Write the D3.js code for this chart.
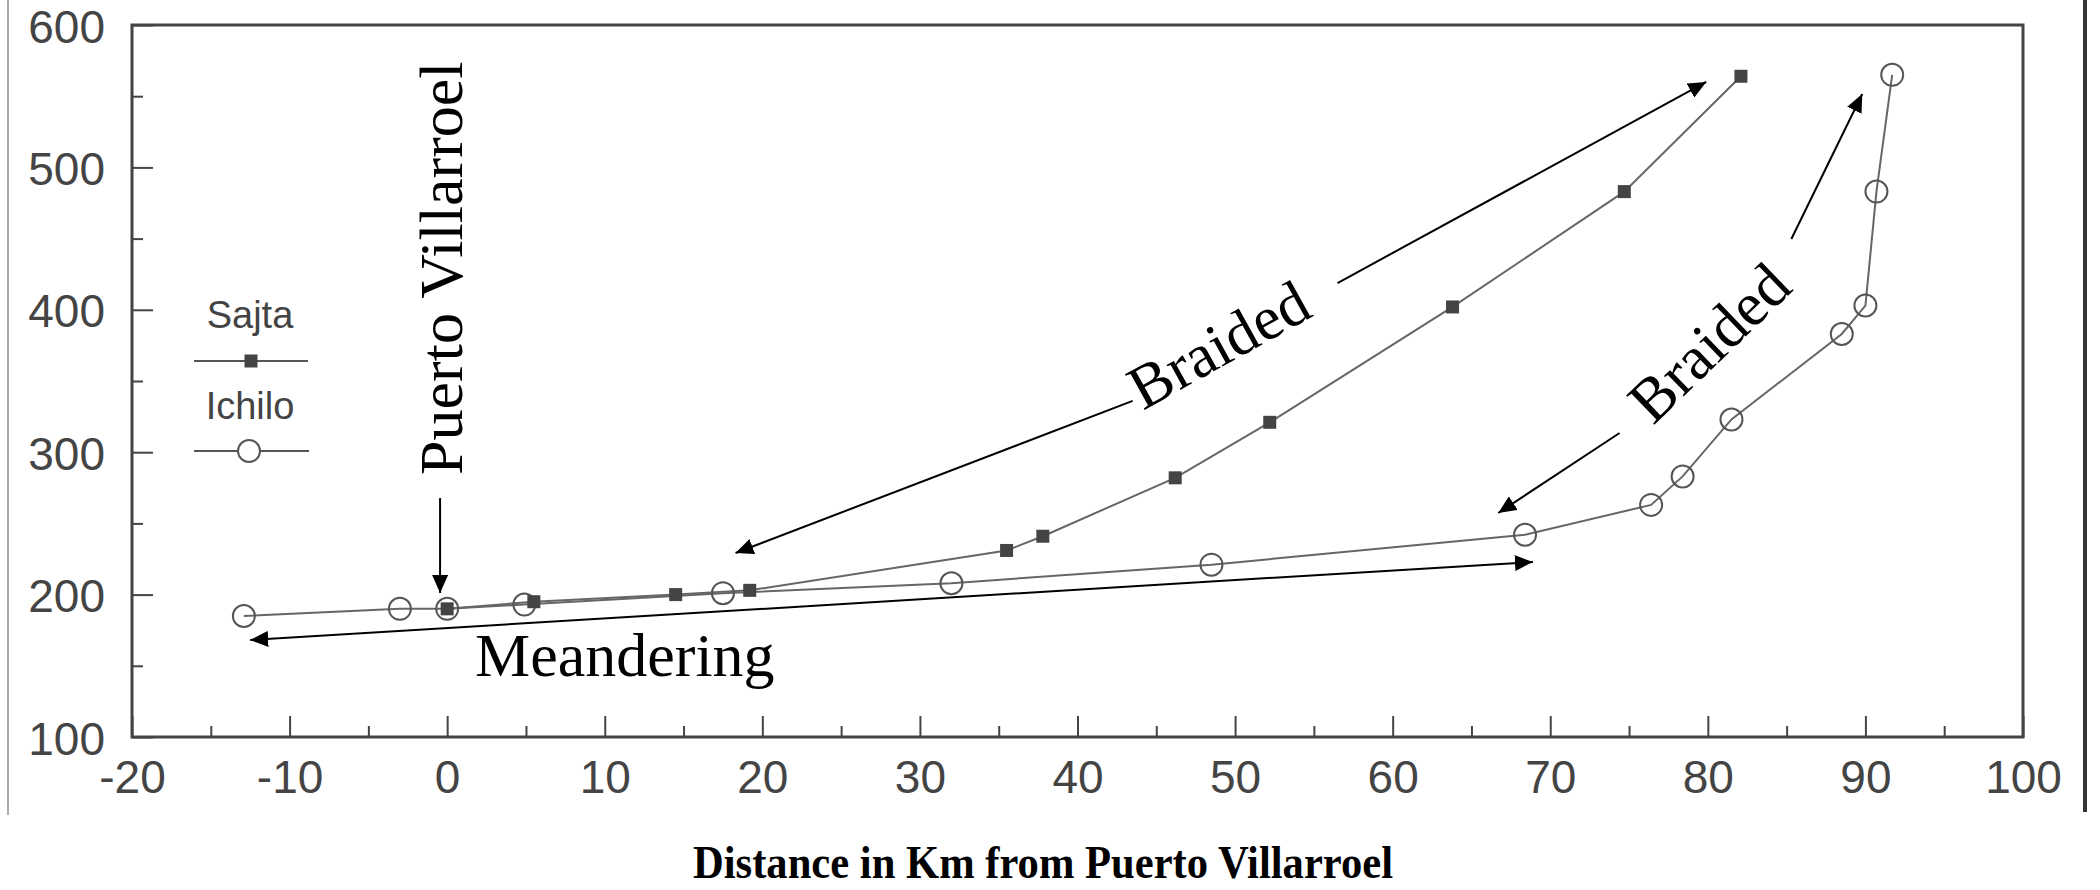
<!DOCTYPE html>
<html>
<head>
<meta charset="utf-8">
<script src="https://cdn.jsdelivr.net/npm/d3@7"></script>
<style>
  body { margin: 0; background: #fff; }
  svg { display: block; }
</style>
</head>
<body>
<svg id="chart" width="2100" height="890"></svg>
<script>
// Sajta river (filled squares)
var sajtaKm = [0, 5.5, 14.5, 19.2, 35.5, 37.8, 46.2, 52.2, 63.8, 74.7, 82.1];
var sajtaElev = [190, 195, 200, 203, 231, 241, 282, 321, 402, 483, 564];

// Ichilo river (open circles)
var ichiloKm = [-12.9, -3, 0, 4.9, 17.5, 32, 48.5, 68.4, 76.4, 78.4, 81.5, 88.5, 90, 90.7, 91.7];
var ichiloElev = [185, 190, 190, 193, 201, 208, 221, 242, 263, 283, 323, 383, 403, 483, 565];

var xTicks = [-20, -10, 0, 10, 20, 30, 40, 50, 60, 70, 80, 90, 100];
var xMinor = [-15, -5, 5, 15, 25, 35, 45, 55, 65, 75, 85, 95];
var yTicks = [100, 200, 300, 400, 500, 600];
var yMinor = [150, 250, 350, 450, 550];

var svg = d3.select("#chart");

var x = d3.scaleLinear().domain([-20, 100]).range([132, 2023]);
var y = d3.scaleLinear().domain([100, 600]).range([737, 25]);

var sans = "'Liberation Sans', Arial, Helvetica, sans-serif";
var serif = "'Liberation Serif', 'Times New Roman', Times, serif";

// plain hyphen for negatives, like the original
function fmt(d) { return String(d); }

// scan edges
svg.append("line").attr("x1", 8).attr("x2", 8).attr("y1", 0).attr("y2", 815)
	.attr("stroke", "#aaa").attr("stroke-width", 2);
svg.append("line").attr("x1", 2085).attr("x2", 2085).attr("y1", 0).attr("y2", 812)
	.attr("stroke", "#333").attr("stroke-width", 4);

// arrow head
svg.append("defs").append("marker")
	.attr("id", "head")
	.attr("viewBox", "0 0 18 16")
	.attr("refX", 18).attr("refY", 8)
	.attr("markerWidth", 18).attr("markerHeight", 16)
	.attr("markerUnits", "userSpaceOnUse")
	.attr("orient", "auto-start-reverse")
	.append("path").attr("d", "M0,0L18,8L0,16Z").attr("fill", "#000");

// axes, ticks pointing inward
svg.append("g").attr("transform", "translate(0," + y(100) + ")")
	.call(d3.axisBottom(x).tickValues(xTicks).tickFormat(fmt).tickSizeInner(-21).tickSizeOuter(0).tickPadding(23));
svg.append("g").attr("transform", "translate(0," + y(100) + ")")
	.call(d3.axisBottom(x).tickValues(xMinor).tickSizeInner(-11).tickSizeOuter(0).tickFormat(""));
var yAxis = svg.append("g").attr("transform", "translate(" + x(-20) + ",0)")
	.call(d3.axisLeft(y).tickValues(yTicks).tickFormat(fmt).tickSizeInner(-21).tickSizeOuter(0).tickPadding(27));
svg.append("g").attr("transform", "translate(" + x(-20) + ",0)")
	.call(d3.axisLeft(y).tickValues(yMinor).tickSizeInner(-11).tickSizeOuter(0).tickFormat(""));

svg.selectAll(".domain").remove();
svg.selectAll(".tick line").attr("stroke", "#444").attr("stroke-width", 2);
svg.selectAll(".tick text")
	.attr("fill", "#444")
	.style("font-family", sans)
	.style("font-size", "46px");
yAxis.selectAll(".tick text").attr("dy", "0.37em");

// frame
svg.append("rect")
	.attr("x", x(-20)).attr("y", y(600))
	.attr("width", x(100) - x(-20)).attr("height", y(100) - y(600))
	.attr("fill", "none").attr("stroke", "#444").attr("stroke-width", 3);

// series
var line = d3.line().x(function(d){ return x(d[0]); }).y(function(d){ return y(d[1]); });
var sajta = sajtaKm.map(function(d, i){ return [d, sajtaElev[i]]; });
var ichilo = ichiloKm.map(function(d, i){ return [d, ichiloElev[i]]; });

svg.append("path").datum(ichilo).attr("d", line)
	.attr("fill", "none").attr("stroke", "#666").attr("stroke-width", 2);
svg.append("path").datum(sajta).attr("d", line)
	.attr("fill", "none").attr("stroke", "#666").attr("stroke-width", 2);

svg.selectAll("circle.ichilo").data(ichilo).enter()
	.append("circle").attr("class", "ichilo")
	.attr("cx", function(d){ return x(d[0]); })
	.attr("cy", function(d){ return y(d[1]); })
	.attr("r", 11)
	.attr("fill", "none").attr("stroke", "#555").attr("stroke-width", 2);

svg.selectAll("rect.sajta").data(sajta).enter()
	.append("rect").attr("class", "sajta")
	.attr("x", function(d){ return x(d[0]) - 6.5; })
	.attr("y", function(d){ return y(d[1]) - 6.5; })
	.attr("width", 13).attr("height", 13)
	.attr("fill", "#444");

// legend
var leg = svg.append("g").style("font-family", sans).style("font-size", "38px").attr("fill", "#444");
leg.append("text").attr("x", 250).attr("y", 328).attr("text-anchor", "middle").text("Sajta");
leg.append("line").attr("x1", 194).attr("x2", 308).attr("y1", 361).attr("y2", 361)
	.attr("stroke", "#555").attr("stroke-width", 2);
leg.append("rect").attr("x", 244.5).attr("y", 354.5).attr("width", 13).attr("height", 13).attr("fill", "#444");
leg.append("text").attr("x", 250).attr("y", 419).attr("text-anchor", "middle").text("Ichilo");
leg.append("line").attr("x1", 194).attr("x2", 309).attr("y1", 451).attr("y2", 451)
	.attr("stroke", "#555").attr("stroke-width", 2);
leg.append("circle").attr("cx", 249).attr("cy", 451).attr("r", 11)
	.attr("fill", "#fff").attr("stroke", "#555").attr("stroke-width", 2);

// annotation arrows, in data units
var arrows = [
	{ from: [-12.5, 168.1], to: [68.9, 222.9], both: true },
	{ from: [-0.45, 267.8], to: [-0.45, 201.1], both: false },
	{ from: [43.5, 336.0], to: [18.3, 229.2], both: false },
	{ from: [56.5, 418.8], to: [79.9, 560.0], both: false },
	{ from: [74.4, 313.5], to: [66.7, 257.3], both: false },
	{ from: [85.3, 449.7], to: [89.8, 551.5], both: false }
];

svg.selectAll("line.arrow").data(arrows).enter()
	.append("line").attr("class", "arrow")
	.attr("x1", function(d){ return x(d.from[0]); })
	.attr("y1", function(d){ return y(d.from[1]); })
	.attr("x2", function(d){ return x(d.to[0]); })
	.attr("y2", function(d){ return y(d.to[1]); })
	.attr("stroke", "#000").attr("stroke-width", 2)
	.attr("marker-end", "url(#head)")
	.attr("marker-start", function(d){ return d.both ? "url(#head)" : null; });

var notes = [
	{ text: "Puerto Villarroel", at: [0.94, 284], angle: -90, anchor: "start" },
	{ text: "Meandering", at: [1.77, 142.8], angle: 0, anchor: "start" },
	{ text: "Braided", at: [49.6, 362.6], angle: -29, anchor: "middle" },
	{ text: "Braided", at: [81.0, 366.2], angle: -44, anchor: "middle" }
];

svg.selectAll("text.note").data(notes).enter()
	.append("text").attr("class", "note")
	.attr("transform", function(d){
		return "translate(" + x(d.at[0]) + "," + y(d.at[1]) + ") rotate(" + d.angle + ")";
	})
	.attr("text-anchor", function(d){ return d.anchor; })
	.style("font-family", serif)
	.style("font-size", "62px")
	.attr("fill", "#000")
	.text(function(d){ return d.text; });

// axis title
svg.append("text")
	.attr("x", 1043).attr("y", 878)
	.attr("text-anchor", "middle")
	.attr("textLength", 700).attr("lengthAdjust", "spacingAndGlyphs")
	.style("font-family", serif)
	.style("font-size", "46px")
	.style("font-weight", "bold")
	.attr("fill", "#000")
	.text("Distance in Km from Puerto Villarroel");
</script>
</body>
</html>
